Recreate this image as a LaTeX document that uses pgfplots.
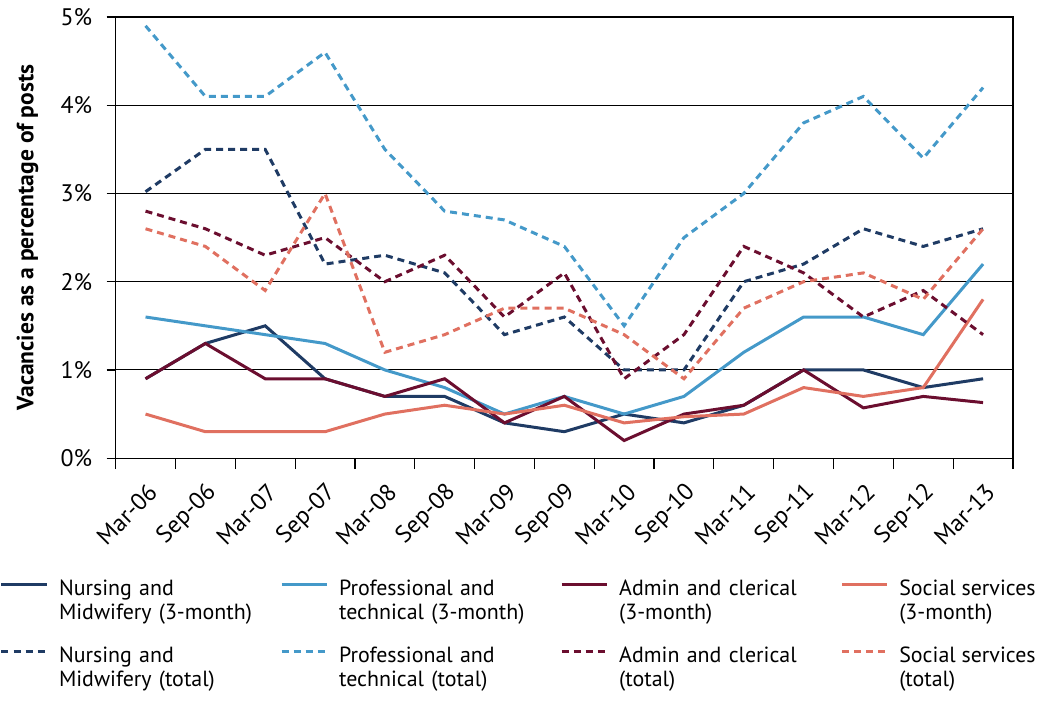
\documentclass[border=0pt]{standalone}
\usepackage{fontspec}
\setmainfont{PT Sans}
\usepackage{pgfplots}
\pgfplotsset{compat=1.18}
\usepackage{pgfplotstable}

\definecolor{navy}{HTML}{1F3B64}
\definecolor{sky}{HTML}{4499C9}
\definecolor{maroon}{HTML}{6B0E2F}
\definecolor{salmon}{HTML}{E07060}

% i = half-year index, Mar-06 = 0 ... Mar-13 = 14
\pgfplotstableread{
i  N3   P3   A3   S3   NT   PT   AT   ST
0  0.9  1.6  0.9  0.5  3.02 4.9  2.8  2.6
1  1.3  1.5  1.3  0.3  3.5  4.1  2.6  2.4
2  1.5  1.4  0.9  0.3  3.5  4.1  2.3  1.9
3  0.9  1.3  0.9  0.3  2.2  4.6  2.5  3.0
4  0.7  1.0  0.7  0.5  2.3  3.5  2.0  1.2
5  0.7  0.8  0.9  0.6  2.1  2.8  2.3  1.4
6  0.4  0.5  0.4  0.5  1.4  2.7  1.6  1.7
7  0.3  0.7  0.7  0.6  1.6  2.4  2.1  1.7
8  0.5  0.5  0.2  0.4  1.0  1.5  0.9  1.4
9  0.4  0.7  0.5  0.47 1.0  2.5  1.4  0.9
10 0.6  1.2  0.6  0.5  2.0  3.0  2.4  1.7
11 1.0  1.6  1.0  0.8  2.2  3.8  2.1  2.0
12 1.0  1.6  0.57 0.7  2.6  4.1  1.6  2.1
13 0.8  1.4  0.7  0.8  2.4  3.4  1.9  1.8
14 0.9  2.2  0.63 1.8  2.6  4.2  1.4  2.6
}\vac

\begin{document}
\begin{tikzpicture}
\begin{axis}[
  name=ax,
  scale only axis,
  width=448.5bp, height=220.5bp,
  xmin=-0.5, xmax=14.5,
  ymin=0, ymax=5,
  font=\fontsize{12}{14}\selectfont,
  axis line style={black, line width=0.6bp},
  tick align=outside,
  tick pos=left,
  ytick={0,1,2,3,4,5},
  yticklabels={0\%,1\%,2\%,3\%,4\%,5\%},
  yticklabel style={inner sep=0pt, xshift=-7bp},
  major tick length=4.5bp,
  minor tick length=5.5bp,
  tick style={black, line width=0.6bp},
  xtick={0,...,14},
  xticklabels={Mar-06,Sep-06,Mar-07,Sep-07,Mar-08,Sep-08,Mar-09,Sep-09,Mar-10,Sep-10,Mar-11,Sep-11,Mar-12,Sep-12,Mar-13},
  every major x tick/.style={draw=none},
  minor xtick={-0.5,0.5,...,14.5},
  xticklabel style={anchor=east, inner sep=0pt, xshift=3.75bp, yshift=-10.5bp, rotate=45},
  ymajorgrids,
  major grid style={black, line width=0.5bp},
  ylabel={\bfseries Vacancies as a percentage of posts},
  every axis y label/.style={at={(rel axis cs:0,0.5)}, xshift=-44bp, rotate=90, anchor=center,
    font=\fontsize{11.8}{14}\selectfont},
  legend columns=4,
  legend cell align=left,
  legend style={at={(rel axis cs:-0.1293,-0.2744)}, anchor=north west,
    draw=none, fill=none, inner sep=0pt, row sep=0pt,
    font=\fontsize{11}{13}\selectfont,
    nodes={inner sep=0pt, text height=8bp},
    /tikz/every odd row/.append style={nodes={text depth=4bp}},
    /tikz/every even row/.append style={nodes={text depth=13.5bp}},
    /tikz/row 4/.append style={nodes={text depth=3.5bp}},
    /tikz/every odd column/.append style={column sep=5.5bp},
    /tikz/column 2/.append style={text width=110.5bp},
    /tikz/column 4/.append style={text width=110.5bp},
    /tikz/column 6/.append style={text width=110.5bp}},
  legend image code/.code={\draw[#1] (0bp,3.7bp) -- (22.5bp,3.7bp);},
  every axis plot/.append style={line width=1.5bp, mark=none},
]
\addplot[navy] table[x=i, y=N3] {\vac};
\addlegendentry{Nursing and}
\addplot[sky] table[x=i, y=P3] {\vac};
\addlegendentry{Professional and}
\addplot[maroon] table[x=i, y=A3] {\vac};
\addlegendentry{Admin and clerical}
\addplot[salmon] table[x=i, y=S3] {\vac};
\addlegendentry{Social services}
\addlegendimage{empty legend}
\addlegendentry{Midwifery (3-month)}
\addlegendimage{empty legend}
\addlegendentry{technical (3-month)}
\addlegendimage{empty legend}
\addlegendentry{(3-month)}
\addlegendimage{empty legend}
\addlegendentry{(3-month)}
\addplot[navy, dash pattern=on 3.5bp off 2.5bp] table[x=i, y=NT] {\vac};
\addlegendentry{Nursing and}
\addplot[sky, dash pattern=on 3.5bp off 2.5bp] table[x=i, y=PT] {\vac};
\addlegendentry{Professional and}
\addplot[maroon, dash pattern=on 3.5bp off 2.5bp] table[x=i, y=AT] {\vac};
\addlegendentry{Admin and clerical}
\addplot[salmon, dash pattern=on 3.5bp off 2.5bp] table[x=i, y=ST] {\vac};
\addlegendentry{Social services}
\addlegendimage{empty legend}
\addlegendentry{Midwifery (total)}
\addlegendimage{empty legend}
\addlegendentry{technical (total)}
\addlegendimage{empty legend}
\addlegendentry{(total)}
\addlegendimage{empty legend}
\addlegendentry{(total)}
\end{axis}
% white margins above the plot and right of the legend, as in the reference
\path ([yshift=8.5bp]ax.north) ([xshift=23bp]ax.east);
\end{tikzpicture}
\end{document}
